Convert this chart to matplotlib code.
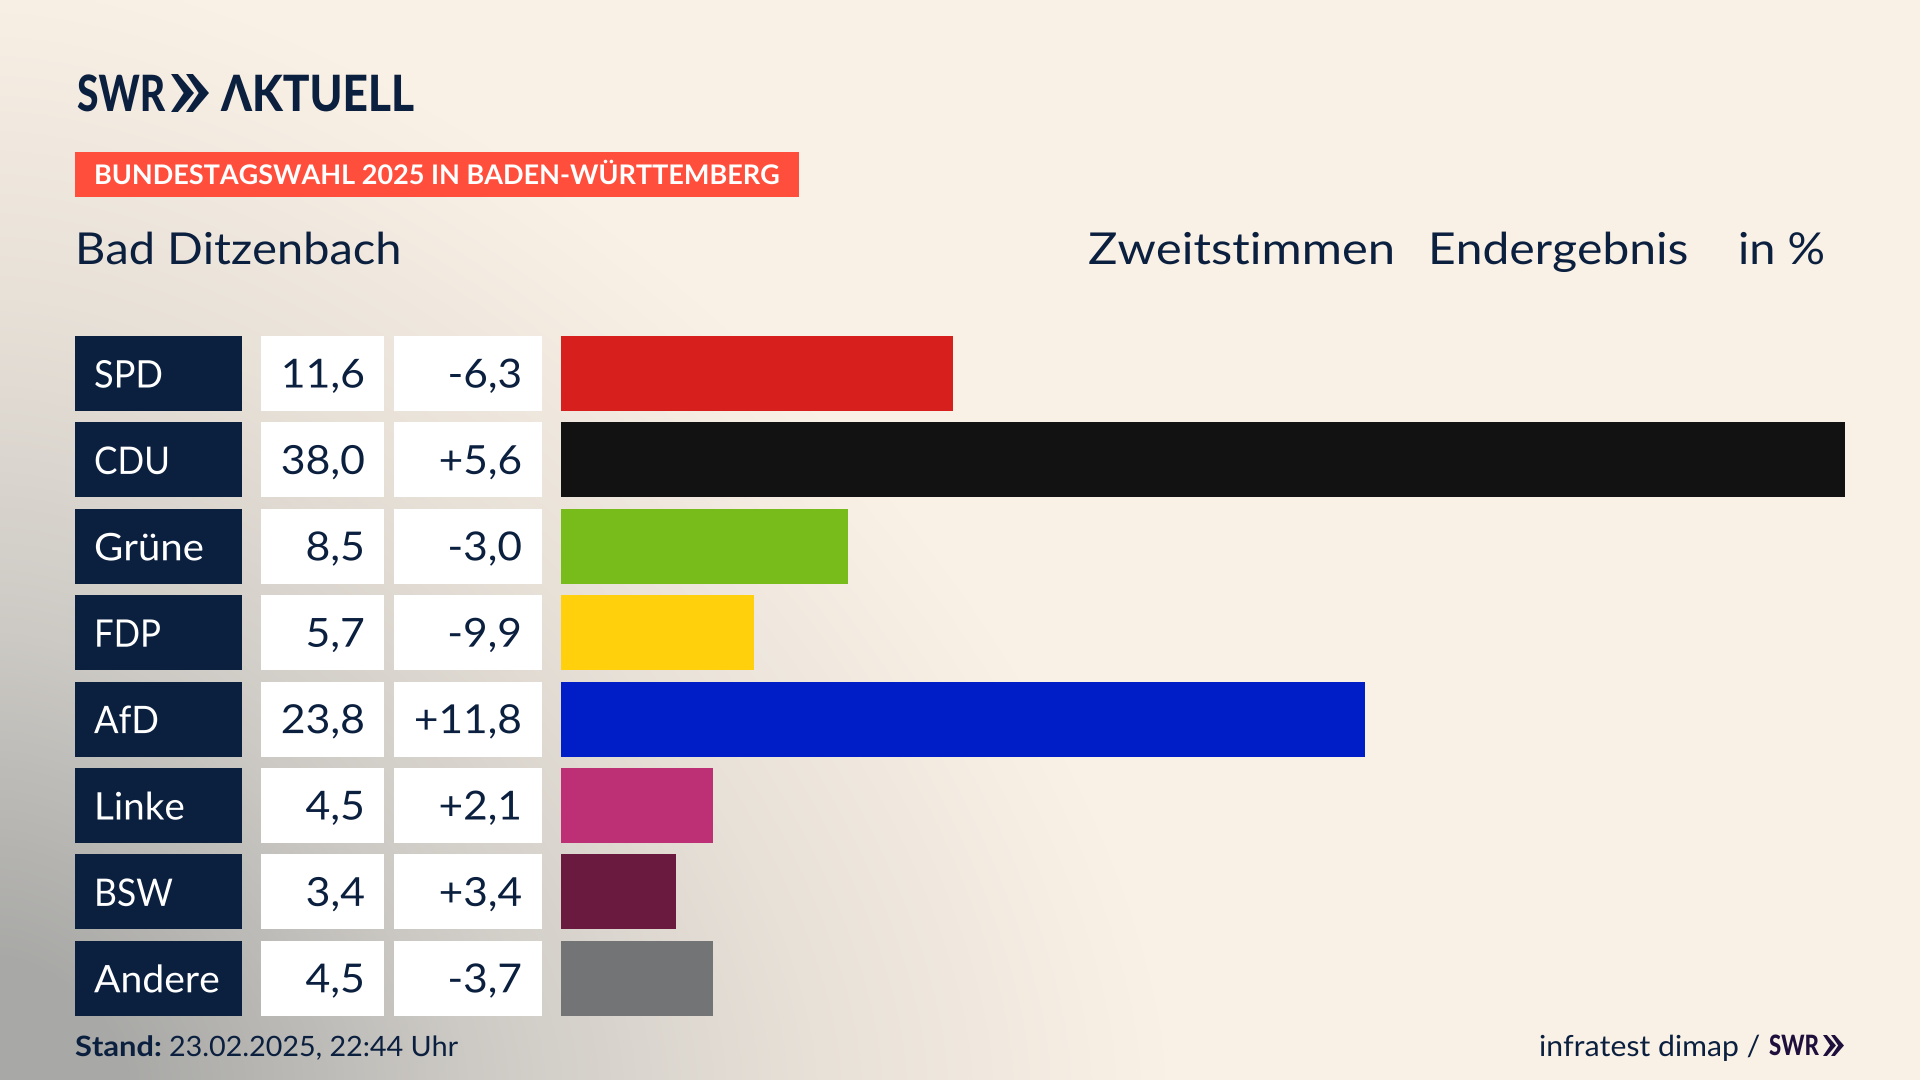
"""Bundestagswahl result card for Bad Ditzenbach."""

import matplotlib
matplotlib.use("Agg")
import matplotlib.pyplot as plt
import numpy as np
from matplotlib.colors import LinearSegmentedColormap
from matplotlib.patches import Polygon, Rectangle
from matplotlib.patheffects import AbstractPathEffect
from matplotlib.transforms import Affine2D

parties = ["SPD", "CDU", "Grüne", "FDP", "AfD", "Linke", "BSW", "Andere"]
shares = [11.6, 38.0, 8.5, 5.7, 23.8, 4.5, 3.4, 4.5]
changes = [-6.3, 5.6, -3.0, -9.9, 11.8, 2.1, 3.4, -3.7]
colors = ["#D71F1D", "#121212", "#78BC1B", "#FFD00B", "#001EC8", "#BD3075", "#6A1A3F", "#737476"]

NAVY = "#0B1F3F"
CREAM = "#FAF1E6"
W, H = 1920, 1080
ROW_TOP, ROW_H, ROW_STEP = 336, 75, 86.4
LABEL_WIDTHS = [69, 76, 110, 67, 65, 91, 79, 126]
FONT = ["Lato", "DejaVu Sans"]


class Stretch(AbstractPathEffect):
    """Scale a text horizontally around a fixed x, the house font is wider than Lato."""

    def __init__(self, x0, factor):
        super().__init__()
        self.x0 = x0
        self.factor = factor

    def draw_path(self, renderer, gc, tpath, affine, rgbFace=None):
        scale = Affine2D().translate(-self.x0, 0).scale(self.factor, 1).translate(self.x0, 0)
        renderer.draw_path(gc, tpath, affine + scale, rgbFace)


def px(size):
    """Font size in points from pixels at dpi 100."""
    return size * 0.72


def label(ax, x, y, s, size, width=None, factor=None, color=NAVY, weight="normal", ha="left", zorder=3):
    """Place a text at pixel x/y, squeezed to a width in pixels or by a factor."""
    t = ax.text(x, y, s, family=FONT, weight=weight, fontsize=px(size), color=color, ha=ha,
                va="baseline", zorder=zorder)
    if width is not None:
        factor = width / t.get_window_extent(ax.figure.canvas.get_renderer()).width
    if factor is not None:
        t.set_path_effects([Stretch(x, factor)])
    return t


def chevrons(ax, x, top, bottom, width, gap, color):
    """Draw the two SWR arrows."""
    mid = (top + bottom) / 2
    for i in range(2):
        x0 = x + i * gap
        ax.add_patch(Polygon([(x0, top), (x0 + width * 0.3, top), (x0 + width, mid),
                              (x0 + width * 0.3, bottom), (x0, bottom), (x0 + width * 0.55, mid)],
                             closed=True, fc=color, ec="none"))


fig = plt.figure(figsize=(19.2, 10.8), dpi=100)
ax = fig.add_axes([0, 0, 1, 1])
ax.set_xlim(0, W)
ax.set_ylim(H, 0)
ax.axis("off")

# background: grey glow coming out of the lower left corner
yy, xx = np.mgrid[0:H:270j, 0:W:480j]
dist = ((xx / 1170) ** 1.6 + ((H - yy) / 1120) ** 1.6) ** (1 / 1.6)
glow = np.clip(1 - dist, 0, 1)
cmap = LinearSegmentedColormap.from_list("bg", [CREAM, "#E8E1D8", "#CDCAC5", "#A8A8A6"])
ax.imshow(glow, cmap=cmap, vmin=0, vmax=0.9, extent=(0, W, H, 0), aspect="auto", zorder=0,
          interpolation="bilinear")

# logo
label(ax, 77, 111, "SWR", 50, width=88, weight=900)
chevrons(ax, 171, 74, 112, 23, 15, NAVY)
label(ax, 221, 111, "ΛKTUELL", 50, width=193, weight=900)

# banner and headings
ax.add_patch(Rectangle((75, 152), 724, 45, fc="#FF4F3C", ec="none"))
label(ax, 94, 184, "BUNDESTAGSWAHL 2025 IN BADEN-WÜRTTEMBERG", 27, width=684, color="white", weight="bold")
label(ax, 75, 264, "Bad Ditzenbach", 44, width=327)
label(ax, 1088, 264, "Zweitstimmen", 44, width=308)
label(ax, 1428, 264, "Endergebnis", 44, width=261)
label(ax, 1738, 264, "in %", 44, width=87)

# table cells on the left
for i, (party, share, change) in enumerate(zip(parties, shares, changes)):
    top = ROW_TOP + i * ROW_STEP
    base = top + 51.5
    ax.add_patch(Rectangle((75, top), 167, ROW_H, fc=NAVY, ec="none", zorder=2))
    ax.add_patch(Rectangle((261, top), 123, ROW_H, fc="white", ec="none", zorder=2))
    ax.add_patch(Rectangle((394, top), 148, ROW_H, fc="white", ec="none", zorder=2))
    label(ax, 94, base, party, 38, width=LABEL_WIDTHS[i], color="white")
    label(ax, 365, base, f"{share:.1f}".replace(".", ","), 40, factor=1.07, ha="right")
    label(ax, 522, base, f"{change:+.1f}".replace(".", ","), 40, factor=1.06, ha="right")

# bars, 38 % spans 561 to 1845 px
bar_ax = fig.add_axes([561 / W, 1 - (ROW_TOP + ROW_H / 2 + 7.5 * ROW_STEP) / H, (1845 - 561) / W, 8 * ROW_STEP / H])
bar_ax.barh(range(len(shares)), shares, height=ROW_H / ROW_STEP, color=colors)
bar_ax.set_xlim(0, 38)
bar_ax.set_ylim(7.5, -0.5)
bar_ax.axis("off")

# footer
label(ax, 75, 1056, "Stand:", 28, width=87, weight="bold")
label(ax, 169, 1056, "23.02.2025, 22:44 Uhr", 28, width=289)
label(ax, 1539, 1056, "infratest dimap /", 29, width=221)
label(ax, 1769, 1055, "SWR", 28, width=50, color="#1E0F3C", weight=900)
chevrons(ax, 1823, 1035, 1056, 13, 8, "#1E0F3C")

fig.savefig("out.png", dpi=100)
